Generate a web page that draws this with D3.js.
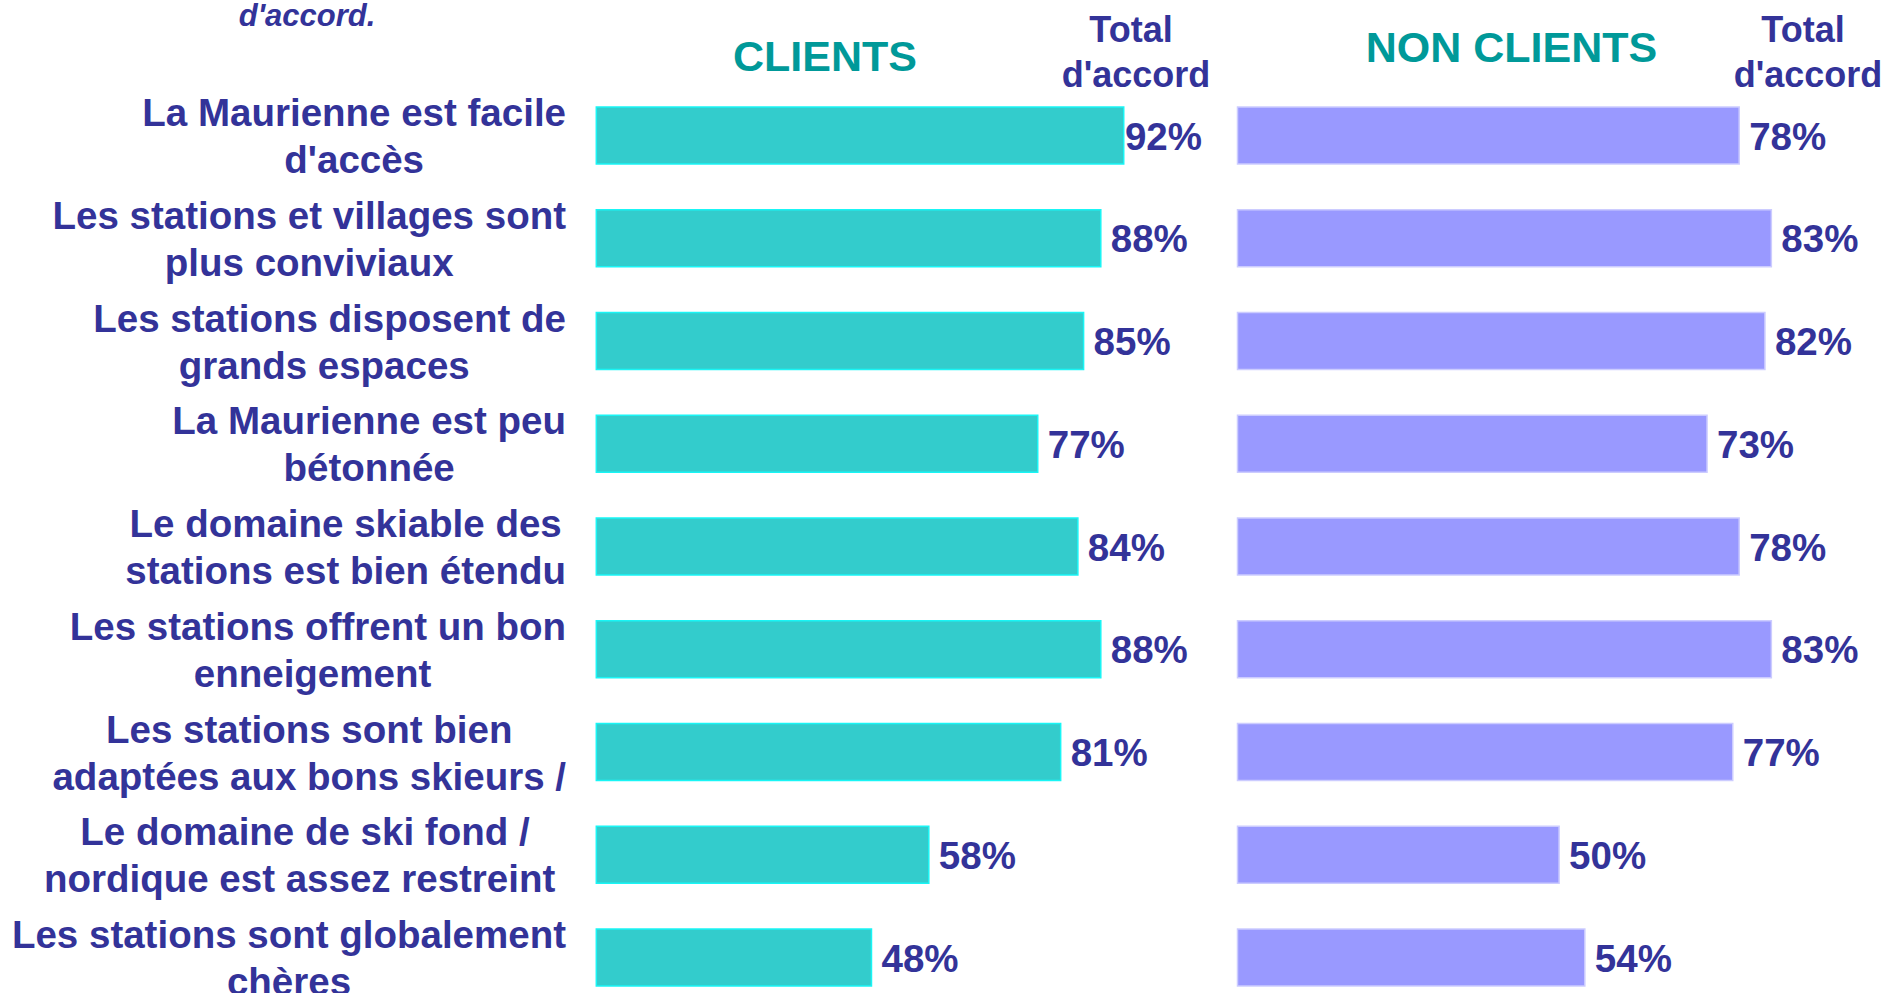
<!DOCTYPE html>
<html><head><meta charset="utf-8">
<script src="https://cdn.jsdelivr.net/npm/d3@7"></script>
<style>
html,body{margin:0;padding:0;background:#fff;overflow:hidden;}
svg{display:block;}
text{font-family:"Liberation Sans",Arial,sans-serif;font-weight:bold;white-space:pre;}
</style></head><body>
<svg id="chart" width="1889" height="993"></svg>
<script>
// ---- data ----
const categories = [
  "La Maurienne est facile\nd'accès",
  "Les stations et villages sont\nplus conviviaux",
  "Les stations disposent de\ngrands espaces ",
  "La Maurienne est peu\nbétonnée",
  "Le domaine skiable des\nstations est bien étendu",
  "Les stations offrent un bon\nenneigement ",
  "Les stations sont bien\nadaptées aux bons skieurs /",
  "Le domaine de ski fond /\nnordique est assez restreint ",
  "Les stations sont globalement\nchères"
];
const clientsValues    = [92, 88, 85, 77, 84, 88, 81, 58, 48];
const nonClientsValues = [78, 83, 82, 73, 78, 83, 77, 50, 54];
const seriesNames = ["CLIENTS", "NON CLIENTS"];
const columnHeader = ["Total ", "d'accord"];
const subtitleFragment = "d'accord.";

// ---- layout ----
const svg = d3.select("#chart");
const labelColor = "#333399";
const headColor = "#009999";

const y = d3.scaleBand()
  .domain(d3.range(categories.length))
  .range([84.125, 1008.875])
  .paddingInner(0.4453)
  .paddingOuter(0.22265);

const xC = d3.scaleLinear().domain([0, 100]).range([596.3, 596.3 + 573.3]);
const xN = d3.scaleLinear().domain([0, 100]).range([1237.5, 1237.5 + 643.2]);

// subtitle fragment (cut at top, as in the source)
svg.append("text")
  .attr("x", 307).attr("y", 26)
  .attr("text-anchor", "middle")
  .style("font-style", "italic")
  .style("font-size", "31px")
  .attr("fill", labelColor)
  .text(subtitleFragment);

// series headers
svg.append("text").attr("x", 825).attr("y", 70.7).attr("text-anchor", "middle")
  .style("font-size", "43px").attr("fill", headColor).text(seriesNames[0]);
svg.append("text").attr("x", 1511.5).attr("y", 62.3).attr("text-anchor", "middle")
  .style("font-size", "43px").attr("fill", headColor).text(seriesNames[1]);

// column headers "Total d'accord"
[1136, 1808].forEach(cx => {
  columnHeader.forEach((t, k) => {
    svg.append("text").attr("x", cx).attr("y", 41.7 + k * 45)
      .attr("text-anchor", "middle").style("font-size", "36px")
      .attr("fill", labelColor).text(t);
  });
});

// category labels
const labelRight = 566;
const lblG = svg.append("g");
categories.forEach((cat, i) => {
  const lines = cat.split("\n");
  const c = y(i) + y.bandwidth() / 2;
  const g = lblG.append("g");
  const ts = lines.map((ln, k) =>
    g.append("text")
      .attr("y", c - 9.5 + k * 47)
      .attr("text-anchor", "middle")
      .style("font-size", "38.5px")
      .attr("fill", labelColor)
      .text(ln));
  const maxW = d3.max(ts, t => t.node().getComputedTextLength());
  ts.forEach(t => t.attr("x", labelRight - maxW / 2));
});

// bars
function drawSeries(values, x, fill, stroke, clampRight) {
  const g = svg.append("g");
  g.selectAll("rect").data(values).join("rect")
    .attr("x", x(0))
    .attr("y", (d, i) => y(i))
    .attr("width", d => x(d) - x(0))
    .attr("height", y.bandwidth())
    .attr("fill", fill)
    .attr("stroke", stroke)
    .attr("stroke-width", 1.5);
  g.selectAll("text").data(values).join("text")
    .attr("y", (d, i) => y(i) + y.bandwidth() / 2 + 14)
    .style("font-size", "38.5px")
    .attr("fill", labelColor)
    .text(d => d + "%")
    .each(function (d) {
      const w = this.getComputedTextLength();
      const xx = Math.min(x(d) + 10, clampRight - w);
      d3.select(this).attr("x", xx);
    });
}
drawSeries(clientsValues, xC, "#33CCCC", "#19F5F5", 1202);
drawSeries(nonClientsValues, xN, "#9999FF", "#CCCCFF", 1889);
</script>
</body></html>
